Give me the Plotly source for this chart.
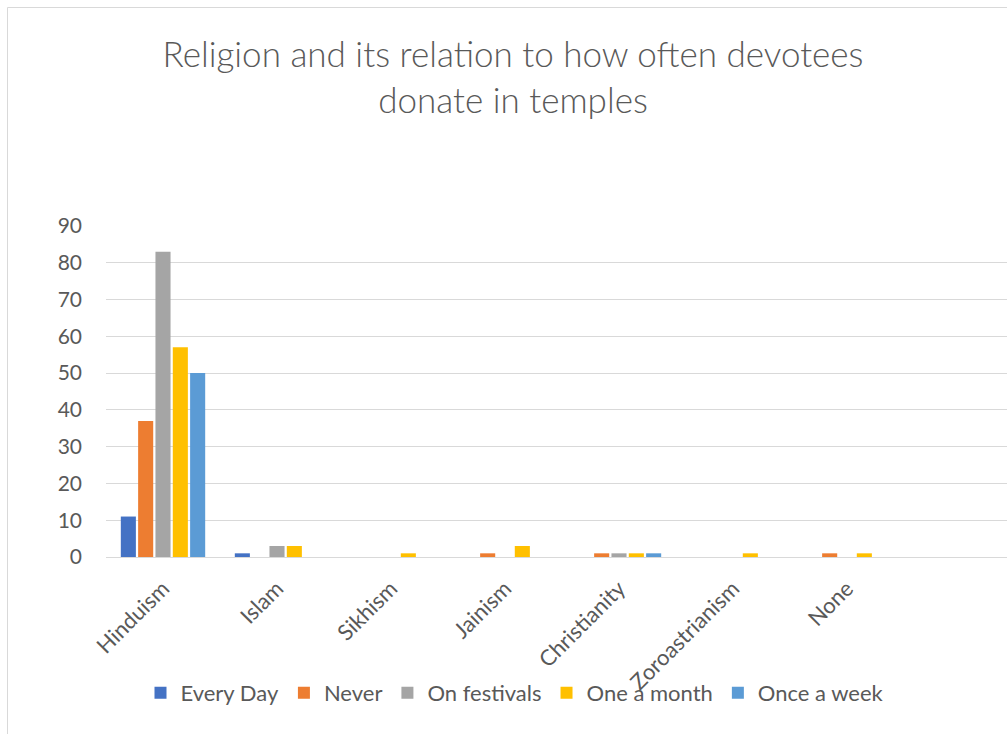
import plotly.graph_objects as go

# Religions surveyed (x categories)
religions = ["Hinduism", "Islam", "Sikhism", "Jainism", "Christianity", "Zoroastrianism", "None"]

# How often devotees donate, counts per religion
every_day = [11, 1, 0, 0, 0, 0, 0]
never = [37, 0, 0, 1, 1, 0, 1]
on_festivals = [83, 3, 0, 0, 1, 0, 0]
one_a_month = [57, 3, 1, 3, 1, 1, 1]
once_a_week = [50, 0, 0, 0, 1, 0, 0]

series_names = ["Every Day", "Never", "On festivals", "One a month", "Once a week"]
series_values = [every_day, never, on_festivals, one_a_month, once_a_week]
series_colors = ["#4472C4", "#ED7D31", "#A5A5A5", "#FFC000", "#5B9BD5"]

y_ticks = [0, 10, 20, 30, 40, 50, 60, 70, 80, 90]

FONT = "Lato, 'Open Sans', sans-serif"
TEXT = "#595959"
GRID = "#D9D9D9"

fig = go.Figure()
for name, vals, color in zip(series_names, series_values, series_colors):
    fig.add_trace(go.Bar(x=religions, y=vals, name=name,
                         marker=dict(color=color, line=dict(width=0))))

W, H = 1007, 734
L, R, T, B = 106, 0, 226, 177
pw, ph = W - L - R, H - T - B

fig.update_layout(
    width=W, height=H,
    margin=dict(l=L, r=R, t=T, b=B, pad=0),
    paper_bgcolor="white", plot_bgcolor="white",
    barmode="group", bargap=0.24, bargroupgap=0.13,
    font=dict(family=FONT, color=TEXT, size=22),
    title=dict(
        text="Religion and its relation to how often devotees<br>donate in temples",
        x=513 / W, xref="container", xanchor="center",
        y=1 - 67 / H, yref="container", yanchor="top",
        font=dict(family=FONT, size=35, color=TEXT, weight=300),
    ),
    showlegend=True,
    legend=dict(orientation="h", x=(515 - L) / pw, xanchor="center",
                y=-(693 - (H - B)) / ph, yanchor="middle",
                bgcolor="rgba(0,0,0,0)",
                font=dict(family=FONT, size=22, color=TEXT),
                traceorder="normal", itemclick=False),
    xaxis=dict(
        type="category", range=[-0.5, -0.5 + pw / 114],
        tickangle=-45, showgrid=False, showline=True, linecolor=GRID, linewidth=1,
        ticks="", ticklabelstandoff=9, tickfont=dict(family=FONT, size=22, color=TEXT),
    ),
    yaxis=dict(
        range=[0, 90], tickvals=y_ticks, showgrid=True, gridcolor=GRID, gridwidth=1,
        zeroline=False, showline=False, ticks="", ticklabelstandoff=23,
        tickfont=dict(family=FONT, size=21, color=TEXT),
    ),
    shapes=[dict(type="rect", xref="paper", yref="paper",
                 x0=(7.5 - L) / pw, x1=1.05, y0=-0.7, y1=((H - B) - 7.5) / ph,
                 line=dict(color=GRID, width=1), fillcolor="rgba(0,0,0,0)", layer="below")],
)

fig.write_html("out.html")
